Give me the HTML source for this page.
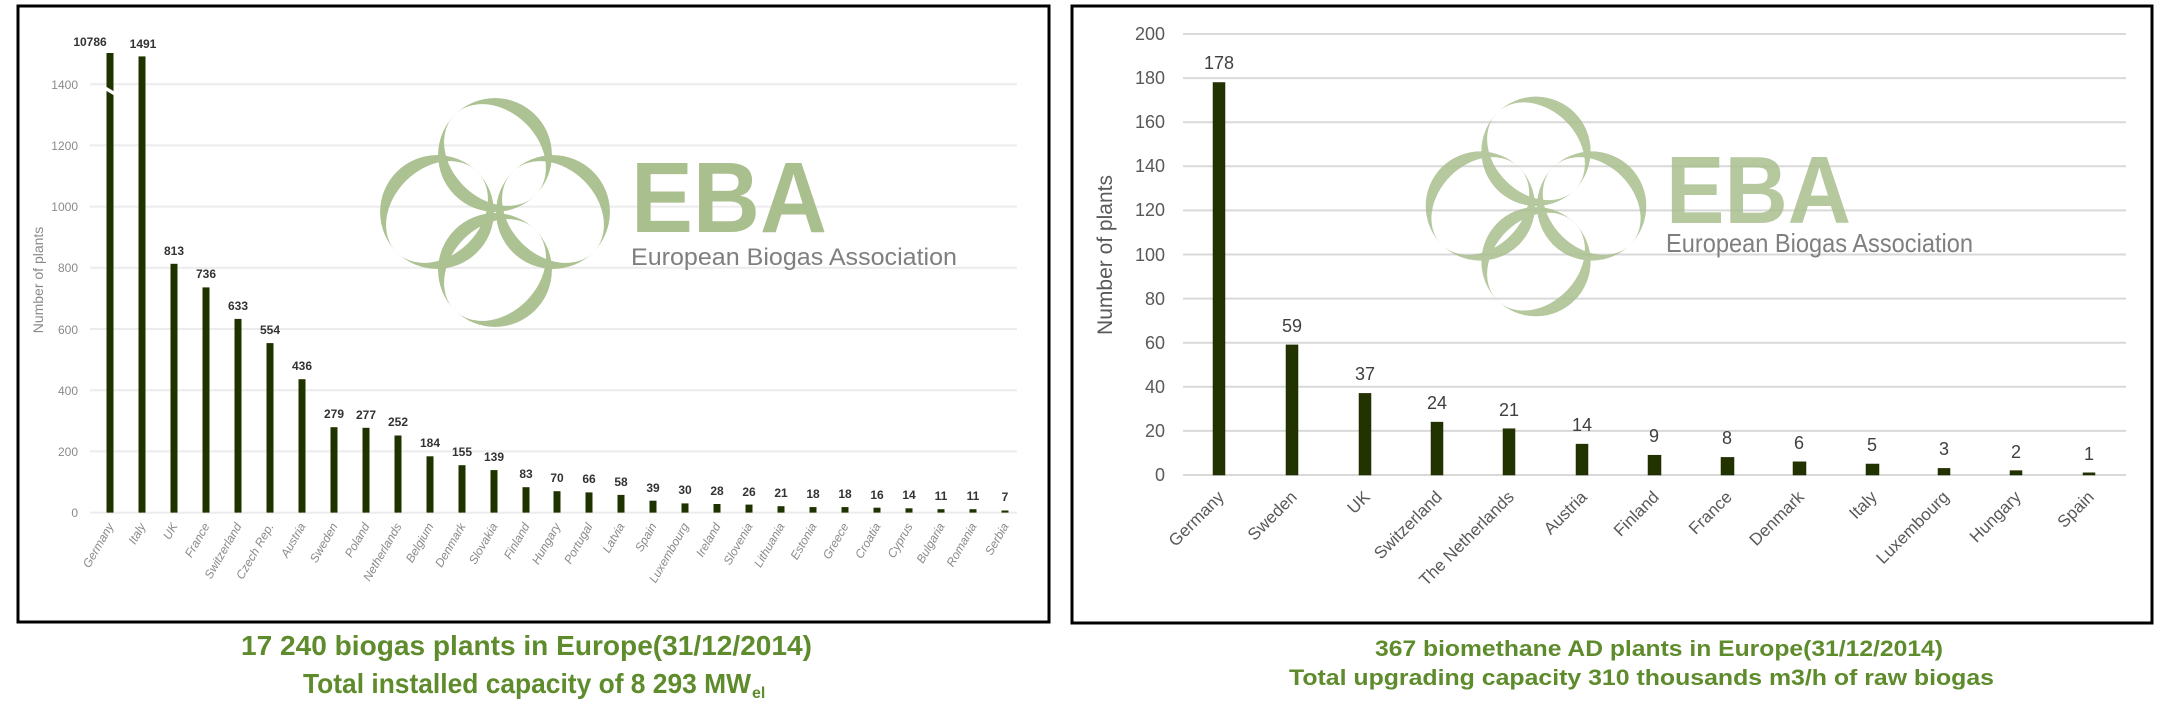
<!DOCTYPE html>
<html><head><meta charset="utf-8"><style>
html,body{margin:0;padding:0;background:#fff;width:2168px;height:710px;overflow:hidden}
svg{display:block}
.lt{font-family:"Liberation Sans",sans-serif;font-size:12px;fill:#8a8a8a}
.lv{font-family:"Liberation Sans",sans-serif;font-size:12px;font-weight:bold;fill:#333;text-anchor:middle}
.lx{font-family:"Liberation Sans",sans-serif;font-size:12px;font-style:italic;fill:#8a8a8a;text-anchor:end}
.rt{font-family:"Liberation Sans",sans-serif;font-size:18px;fill:#595959;text-anchor:end}
.rv{font-family:"Liberation Sans",sans-serif;font-size:18px;fill:#404040;text-anchor:middle}
.rx{font-family:"Liberation Sans",sans-serif;font-size:17px;fill:#595959;text-anchor:end}
.ttl{font-family:"Liberation Sans",sans-serif;font-weight:bold;fill:#5e8b2c}
</style></head><body>
<svg width="2168" height="710" viewBox="0 0 2168 710" xmlns="http://www.w3.org/2000/svg">
<defs>
<mask id="mT"><circle cx="0" cy="0" r="57" fill="#fff"/><ellipse cx="0" cy="0" rx="57" ry="44" transform="rotate(45)" fill="#000"/></mask>
<mask id="mB"><circle cx="0" cy="0" r="57" fill="#fff"/><ellipse cx="0" cy="0" rx="57" ry="44" transform="rotate(-45)" fill="#000"/></mask>
</defs>

<!-- LEFT BOX -->
<rect x="18" y="6" width="1031" height="616" fill="#fff" stroke="#000" stroke-width="3"/>
<g stroke="#ececec" stroke-width="2">
<line x1="90" y1="451.4" x2="1017" y2="451.4"/><line x1="90" y1="390.2" x2="1017" y2="390.2"/>
<line x1="90" y1="329" x2="1017" y2="329"/><line x1="90" y1="267.8" x2="1017" y2="267.8"/>
<line x1="90" y1="206.6" x2="1017" y2="206.6"/><line x1="90" y1="145.4" x2="1017" y2="145.4"/>
<line x1="90" y1="84.2" x2="1017" y2="84.2"/><line x1="90" y1="512.6" x2="1017" y2="512.6"/>
</g>
<g transform="translate(495,212)" opacity="0.95">
<g transform="translate(0,-57)"><circle r="57" fill="#a9bf8e" mask="url(#mT)"/></g>
<g transform="translate(0,58)"><circle r="57" fill="#a9bf8e" mask="url(#mB)"/></g>
<g transform="translate(-58,0)"><circle r="57" fill="#a9bf8e" mask="url(#mB)"/></g>
<g transform="translate(58,0)"><circle r="57" fill="#a9bf8e" mask="url(#mT)"/></g>
</g>
<text x="631" y="232" font-family="Liberation Sans,sans-serif" font-weight="bold" font-size="100" fill="#a9bf8e" textLength="196" lengthAdjust="spacingAndGlyphs">EBA</text>
<text x="631" y="265" font-family="Liberation Sans,sans-serif" font-size="24" fill="#7f7f7f" textLength="326" lengthAdjust="spacingAndGlyphs">European Biogas Association</text>

<g class="lt" text-anchor="end">
<text x="78" y="517">0</text><text x="78" y="456">200</text><text x="78" y="395">400</text><text x="78" y="334">600</text>
<text x="78" y="272">800</text><text x="78" y="211">1000</text><text x="78" y="150">1200</text><text x="78" y="89">1400</text>
</g>
<text transform="translate(43,280) rotate(-90)" font-family="Liberation Sans,sans-serif" font-size="14" fill="#8a8a8a" text-anchor="middle">Number of plants</text>

<g fill="#1f3300">
<rect x="106.5" y="53" width="7" height="459.6"/>
<rect x="138.5" y="56.4" width="7" height="456.2"/>
<rect x="170.5" y="263.8" width="7" height="248.8"/>
<rect x="202.5" y="287.4" width="7" height="225.2"/>
<rect x="234.5" y="318.9" width="7" height="193.7"/>
<rect x="266.5" y="343.1" width="7" height="169.5"/>
<rect x="298.5" y="379.2" width="7" height="133.4"/>
<rect x="330.5" y="427.2" width="7" height="85.4"/>
<rect x="362.5" y="427.8" width="7" height="84.8"/>
<rect x="394.5" y="435.5" width="7" height="77.1"/>
<rect x="426.5" y="456.3" width="7" height="56.3"/>
<rect x="458.5" y="465.2" width="7" height="47.4"/>
<rect x="490.5" y="470.1" width="7" height="42.5"/>
<rect x="522.5" y="487.2" width="7" height="25.4"/>
<rect x="553.5" y="491.2" width="7" height="21.4"/>
<rect x="585.5" y="492.4" width="7" height="20.2"/>
<rect x="617.5" y="494.9" width="7" height="17.7"/>
<rect x="649.5" y="500.7" width="7" height="11.9"/>
<rect x="681.5" y="503.4" width="7" height="9.2"/>
<rect x="713.5" y="504" width="7" height="8.6"/>
<rect x="745.5" y="504.6" width="7" height="8"/>
<rect x="777.5" y="506.2" width="7" height="6.4"/>
<rect x="809.5" y="507.1" width="7" height="5.5"/>
<rect x="841.5" y="507.1" width="7" height="5.5"/>
<rect x="873.5" y="507.7" width="7" height="4.9"/>
<rect x="905.5" y="508.3" width="7" height="4.3"/>
<rect x="937.5" y="509.2" width="7" height="3.4"/>
<rect x="969.5" y="509.2" width="7" height="3.4"/>
<rect x="1001.5" y="510.5" width="7" height="2.1"/>
</g>
<polygon points="105,86 115,92 115,96 105,90" fill="#fff"/>

<g class="lv">
<text x="90" y="46">10786</text><text x="143" y="48">1491</text><text x="174" y="255">813</text>
<text x="206" y="278">736</text><text x="238" y="310">633</text><text x="270" y="334">554</text>
<text x="302" y="370">436</text><text x="334" y="418">279</text><text x="366" y="419">277</text>
<text x="398" y="426">252</text><text x="430" y="447">184</text><text x="462" y="456">155</text>
<text x="494" y="461">139</text><text x="526" y="478">83</text><text x="557" y="482">70</text>
<text x="589" y="483">66</text><text x="621" y="486">58</text><text x="653" y="492">39</text>
<text x="685" y="494">30</text><text x="717" y="495">28</text><text x="749" y="496">26</text>
<text x="781" y="497">21</text><text x="813" y="498">18</text><text x="845" y="498">18</text>
<text x="877" y="499">16</text><text x="909" y="499">14</text><text x="941" y="500">11</text>
<text x="973" y="500">11</text><text x="1005" y="501">7</text>
</g>

<g class="lx">
<text transform="translate(114,526) rotate(-60)">Germany</text>
<text transform="translate(146,526) rotate(-60)">Italy</text>
<text transform="translate(178,526) rotate(-60)">UK</text>
<text transform="translate(210,526) rotate(-60)">France</text>
<text transform="translate(242,526) rotate(-60)">Switzerland</text>
<text transform="translate(274,526) rotate(-60)">Czech Rep.</text>
<text transform="translate(306,526) rotate(-60)">Austria</text>
<text transform="translate(338,526) rotate(-60)">Sweden</text>
<text transform="translate(370,526) rotate(-60)">Poland</text>
<text transform="translate(402,526) rotate(-60)">Netherlands</text>
<text transform="translate(434,526) rotate(-60)">Belgium</text>
<text transform="translate(466,526) rotate(-60)">Denmark</text>
<text transform="translate(498,526) rotate(-60)">Slovakia</text>
<text transform="translate(530,526) rotate(-60)">Finland</text>
<text transform="translate(561,526) rotate(-60)">Hungary</text>
<text transform="translate(593,526) rotate(-60)">Portugal</text>
<text transform="translate(625,526) rotate(-60)">Latvia</text>
<text transform="translate(657,526) rotate(-60)">Spain</text>
<text transform="translate(689,526) rotate(-60)">Luxembourg</text>
<text transform="translate(721,526) rotate(-60)">Ireland</text>
<text transform="translate(753,526) rotate(-60)">Slovenia</text>
<text transform="translate(785,526) rotate(-60)">Lithuania</text>
<text transform="translate(817,526) rotate(-60)">Estonia</text>
<text transform="translate(849,526) rotate(-60)">Greece</text>
<text transform="translate(881,526) rotate(-60)">Croatia</text>
<text transform="translate(913,526) rotate(-60)">Cyprus</text>
<text transform="translate(945,526) rotate(-60)">Bulgaria</text>
<text transform="translate(977,526) rotate(-60)">Romania</text>
<text transform="translate(1009,526) rotate(-60)">Serbia</text>
</g>

<text class="ttl" x="241" y="655" font-size="28" textLength="571" lengthAdjust="spacingAndGlyphs">17 240 biogas plants in Europe(31/12/2014)</text>
<text class="ttl" x="303" y="693" font-size="28" textLength="448" lengthAdjust="spacingAndGlyphs">Total installed capacity of 8 293 MW</text>
<text class="ttl" x="752" y="698" font-size="16">el</text>

<!-- RIGHT BOX -->
<rect x="1072" y="6" width="1080" height="617" fill="#fff" stroke="#000" stroke-width="3"/>
<g stroke="#d9d9d9" stroke-width="2">
<line x1="1183" y1="34" x2="2126" y2="34"/><line x1="1183" y1="78.1" x2="2126" y2="78.1"/>
<line x1="1183" y1="122.2" x2="2126" y2="122.2"/><line x1="1183" y1="166.3" x2="2126" y2="166.3"/>
<line x1="1183" y1="210.4" x2="2126" y2="210.4"/><line x1="1183" y1="254.5" x2="2126" y2="254.5"/>
<line x1="1183" y1="298.6" x2="2126" y2="298.6"/><line x1="1183" y1="342.7" x2="2126" y2="342.7"/>
<line x1="1183" y1="386.8" x2="2126" y2="386.8"/><line x1="1183" y1="430.9" x2="2126" y2="430.9"/>
<line x1="1183" y1="475" x2="2126" y2="475"/>
</g>
<g transform="translate(1536,206) scale(0.96)" opacity="0.85">
<g transform="translate(0,-57)"><circle r="57" fill="#a9bf8e" mask="url(#mT)"/></g>
<g transform="translate(0,58)"><circle r="57" fill="#a9bf8e" mask="url(#mB)"/></g>
<g transform="translate(-58,0)"><circle r="57" fill="#a9bf8e" mask="url(#mB)"/></g>
<g transform="translate(58,0)"><circle r="57" fill="#a9bf8e" mask="url(#mT)"/></g>
</g>
<text x="1666" y="223" font-family="Liberation Sans,sans-serif" font-weight="bold" font-size="96" fill="#a9bf8e" opacity="0.85" textLength="185" lengthAdjust="spacingAndGlyphs">EBA</text>
<text x="1666" y="252" font-family="Liberation Sans,sans-serif" font-size="26" fill="#7f7f7f" textLength="307" lengthAdjust="spacingAndGlyphs">European Biogas Association</text>

<g class="rt">
<text x="1165" y="481">0</text><text x="1165" y="437">20</text><text x="1165" y="393">40</text>
<text x="1165" y="349">60</text><text x="1165" y="305">80</text><text x="1165" y="261">100</text>
<text x="1165" y="216">120</text><text x="1165" y="172">140</text><text x="1165" y="128">160</text>
<text x="1165" y="84">180</text><text x="1165" y="40">200</text>
</g>
<text transform="translate(1112,255) rotate(-90)" font-family="Liberation Sans,sans-serif" font-size="21" fill="#595959" text-anchor="middle">Number of plants</text>

<g fill="#223300" stroke="#1a2600" stroke-width="0.5">
<rect x="1213" y="82.5" width="12" height="392.5"/>
<rect x="1286" y="344.9" width="12" height="130.1"/>
<rect x="1359" y="393.4" width="12" height="81.6"/>
<rect x="1431" y="422.1" width="12" height="52.9"/>
<rect x="1503" y="428.7" width="12" height="46.3"/>
<rect x="1576" y="444.1" width="12" height="30.9"/>
<rect x="1648" y="455.2" width="13" height="19.8"/>
<rect x="1721" y="457.4" width="13" height="17.6"/>
<rect x="1793" y="461.8" width="13" height="13.2"/>
<rect x="1866" y="464" width="13" height="11"/>
<rect x="1938" y="468.4" width="12" height="6.6"/>
<rect x="2010" y="470.6" width="12" height="4.4"/>
<rect x="2083" y="472.8" width="12" height="2.2"/>
</g>
<g class="rv">
<text x="1219" y="69">178</text><text x="1292" y="332">59</text><text x="1365" y="380">37</text>
<text x="1437" y="409">24</text><text x="1509" y="416">21</text><text x="1582" y="431">14</text>
<text x="1654" y="442">9</text><text x="1727" y="444">8</text><text x="1799" y="449">6</text>
<text x="1872" y="451">5</text><text x="1944" y="455">3</text><text x="2016" y="458">2</text>
<text x="2089" y="460">1</text>
</g>
<g class="rx">
<text transform="translate(1225,498) rotate(-45)">Germany</text>
<text transform="translate(1298,498) rotate(-45)">Sweden</text>
<text transform="translate(1371,498) rotate(-45)">UK</text>
<text transform="translate(1443,498) rotate(-45)">Switzerland</text>
<text transform="translate(1515,498) rotate(-45)">The Netherlands</text>
<text transform="translate(1588,498) rotate(-45)">Austria</text>
<text transform="translate(1660,498) rotate(-45)">Finland</text>
<text transform="translate(1733,498) rotate(-45)">France</text>
<text transform="translate(1805,498) rotate(-45)">Denmark</text>
<text transform="translate(1878,498) rotate(-45)">Italy</text>
<text transform="translate(1950,498) rotate(-45)">Luxembourg</text>
<text transform="translate(2022,498) rotate(-45)">Hungary</text>
<text transform="translate(2095,498) rotate(-45)">Spain</text>
</g>

<text class="ttl" x="1375" y="656" font-size="22" textLength="568" lengthAdjust="spacingAndGlyphs">367 biomethane AD plants in Europe(31/12/2014)</text>
<text class="ttl" x="1289" y="685" font-size="22" textLength="705" lengthAdjust="spacingAndGlyphs">Total upgrading capacity 310 thousands m3/h of raw biogas</text>
</svg>
</body></html>
